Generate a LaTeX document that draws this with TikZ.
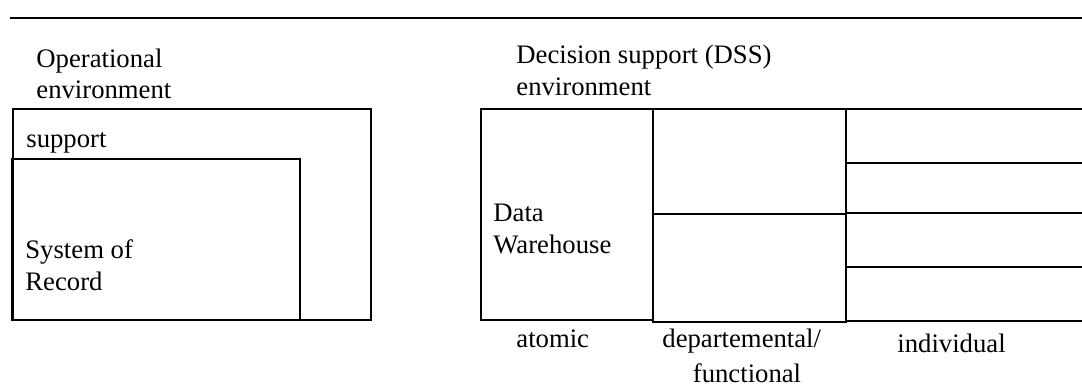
\documentclass[tikz,border=0pt]{standalone}
\usepackage{fontspec}
\setmainfont{Liberation Serif}
\begin{document}
\begin{tikzpicture}[x=0.5pt,y=-0.5pt,
  line/.style={line width=0.9pt, black},
  lbl/.style={anchor=base west, inner sep=0pt, font=\fontsize{13.35pt}{15.5pt}\selectfont},
  lblc/.style={anchor=base, inner sep=0pt, font=\fontsize{13.35pt}{15.5pt}\selectfont}]
\useasboundingbox (0,0) rectangle (1082,391);
% top rule
\coordinate (ruleL) at (10,18);
\coordinate (ruleR) at (1082,18);
\draw[line] (ruleL) -- (ruleR);
% operational environment
\draw[line] (13,109) rectangle (371,320);
\draw[line] (12,159) rectangle (300,320);
\node[lbl] (op1) at (36,67) {Operational};
\node[lbl] (op2) at (36,98) {environment};
\node[lbl] (sup) at (26,147) {support};
\node[lbl] (sor1) at (25,258) {System of};
\node[lbl] (sor2) at (25,290) {Record};
% DSS environment
\node[lbl] (dss1) at (516,63.3) {Decision support (DSS)};
\node[lbl] (dss2) at (516,95) {environment};
\draw[line] (481,109) rectangle (653,320);
\draw[line] (653,109) rectangle (846,322);
\draw[line] (653,214) -- (846,214);
\foreach \yy in {109,163,213,267,321}{
  \draw[line] (846,\yy) -- (1082,\yy);
}
\node[lbl] (dw1) at (493,221) {Data};
\node[lbl] (dw2) at (493,253) {Warehouse};
\node[lbl] (atm) at (516,347) {atomic};
\node[lbl] (dep1) at (662,347) {departemental/};
\node[lblc] (dep2) at (747,382) {functional};
\node[lbl] (ind) at (897,352) {individual};
\end{tikzpicture}
\end{document}
